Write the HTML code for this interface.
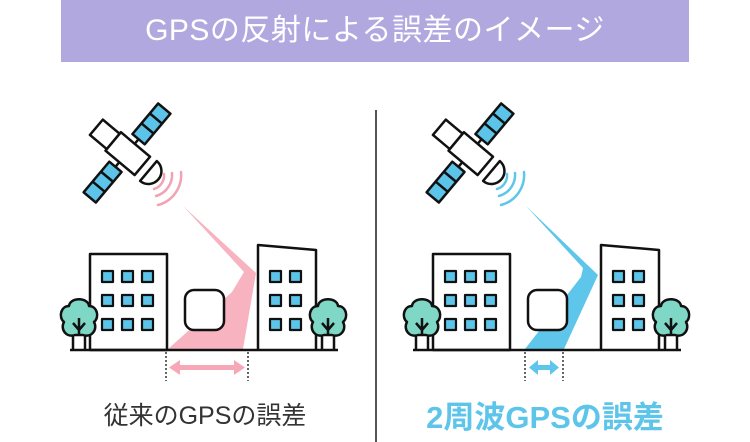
<!DOCTYPE html>
<html><head><meta charset="utf-8"><style>
html,body{margin:0;padding:0;background:#fff;}
body{width:750px;height:442px;overflow:hidden;position:relative;font-family:"Liberation Sans","Noto Sans CJK JP",sans-serif;}
.bar{position:absolute;left:61px;top:0;width:628px;height:62px;background:#b1a8df;color:#fff;font-size:30px;text-align:center;line-height:62px;letter-spacing:0.5px;}
.l1{position:absolute;left:80px;width:250px;top:396px;text-align:center;font-size:25px;color:#333;}
.l2{position:absolute;left:400px;width:290px;top:392px;text-align:center;font-size:31px;font-weight:bold;color:#5ec5ea;}
svg{position:absolute;left:0;top:0;}
</style></head><body>
<div class="bar">GPSの反射による誤差のイメージ</div>
<svg width="750" height="442" viewBox="0 0 750 442">
<defs>
<g id="sat" stroke="#111" stroke-width="2.5" stroke-linejoin="round">
 <g transform="translate(127,153) rotate(40)">
  <rect x="-40" y="-10" width="22" height="20" fill="#fff"/>
  <rect x="-18" y="-12" width="38" height="24" fill="#fff"/>
  <line x1="0" y1="-12" x2="0" y2="-18"/><line x1="0" y1="12" x2="0" y2="18"/>
  <rect x="-8" y="-58" width="16" height="40" fill="#5bc4e8"/>
  <line x1="-8" y1="-45" x2="8" y2="-45"/><line x1="-8" y1="-32" x2="8" y2="-32"/>
  <rect x="-8" y="18" width="16" height="40" fill="#5bc4e8"/>
  <line x1="-8" y1="31" x2="8" y2="31"/><line x1="-8" y1="44" x2="8" y2="44"/>
  <path d="M28,-13 A13 13 0 0 1 28,13 Z" fill="#fff"/>
 </g>
</g>
<g id="tree" stroke="#111" stroke-width="2.5" stroke-linejoin="round">
 <path d="M-6,350 V332 M6,350 V332" fill="none"/>
 <path d="M-4,335 C-13,338 -19,329 -15,322 C-21,317 -18,306 -10,306 C-9,297 9,297 10,306 C18,306 21,317 15,322 C19,329 13,338 4,335 Z" fill="#7fd8c6"/>
 <path d="M0,336 V318 M-6,323 L0,330 L6,323" fill="none"/>
</g>
<g id="waves" fill="none" stroke-width="2.5" stroke-linecap="round">
 <path d="M164,174 A14 14 0 0 1 154,189"/>
 <path d="M172,173 A22 22 0 0 1 156,196"/>
 <path d="M181,172 A31 31 0 0 1 158,205"/>
</g>
<g id="city" stroke="#111" stroke-width="2.5" stroke-linejoin="round">
 <rect x="90" y="254" width="77" height="96" fill="#fff"/>
 <path d="M258,350 V245 L316,250 V350" fill="#fff"/>
 <rect x="185" y="290" width="39" height="40" rx="9" fill="#fff"/>
 <g fill="#5bc4e8" stroke-width="2.2">
  <rect x="102" y="271" width="11" height="11"/><rect x="122" y="271" width="11" height="11"/><rect x="142" y="271" width="11" height="11"/>
  <rect x="102" y="295" width="11" height="11"/><rect x="122" y="295" width="11" height="11"/><rect x="142" y="295" width="11" height="11"/>
  <rect x="102" y="319" width="11" height="11"/><rect x="122" y="319" width="11" height="11"/><rect x="142" y="319" width="11" height="11"/>
  <rect x="270" y="271" width="11" height="11"/><rect x="290" y="271" width="11" height="11"/>
  <rect x="270" y="295" width="11" height="11"/><rect x="290" y="295" width="11" height="11"/>
  <rect x="270" y="319" width="11" height="11"/><rect x="290" y="319" width="11" height="11"/>
 </g>
</g>
</defs>

<!-- LEFT -->
<polygon points="183,206 256,273 243,349 168,349 232,292 244,272" fill="#f7b3bf"/>
<use href="#waves" stroke="#f2a3b3"/>
<use href="#sat"/>
<use href="#city"/>
<g transform="translate(79,0)"><use href="#tree"/></g>
<g transform="translate(328,0)"><use href="#tree"/></g>
<line x1="70" y1="350" x2="338" y2="350" stroke="#111" stroke-width="2.5"/>
<g stroke="#333" stroke-width="1.5" stroke-dasharray="2,2"><line x1="166" y1="352" x2="166" y2="381"/><line x1="248" y1="352" x2="248" y2="381"/></g>
<g fill="#f7a8b6"><rect x="176" y="365" width="62" height="5"/><polygon points="169,367.5 180,360 180,375"/><polygon points="245,367.5 234,360 234,375"/></g>

<!-- DIVIDER -->
<line x1="376" y1="110" x2="376" y2="442" stroke="#555" stroke-width="2"/>

<!-- RIGHT -->
<g transform="translate(343,0)">
<polygon points="183,206 255,275 221,349 182,349 238,277 240,268" fill="#5ec6ea"/>
<use href="#waves" stroke="#5ec6ea"/>
<use href="#sat"/>
<use href="#city"/>
<g transform="translate(79,0)"><use href="#tree"/></g>
<g transform="translate(328,0)"><use href="#tree"/></g>
<line x1="70" y1="350" x2="338" y2="350" stroke="#111" stroke-width="2.5"/>
<g stroke="#333" stroke-width="1.5" stroke-dasharray="2,2"><line x1="182" y1="352" x2="182" y2="381"/><line x1="220" y1="352" x2="220" y2="381"/></g>
<g fill="#5ec6ea"><rect x="191" y="365" width="20" height="5"/><polygon points="186,367.5 195,360 195,375"/><polygon points="216,367.5 207,360 207,375"/></g>
</g>
</svg>
<div class="l1">従来のGPSの誤差</div>
<div class="l2">2周波GPSの誤差</div>
</body></html>
